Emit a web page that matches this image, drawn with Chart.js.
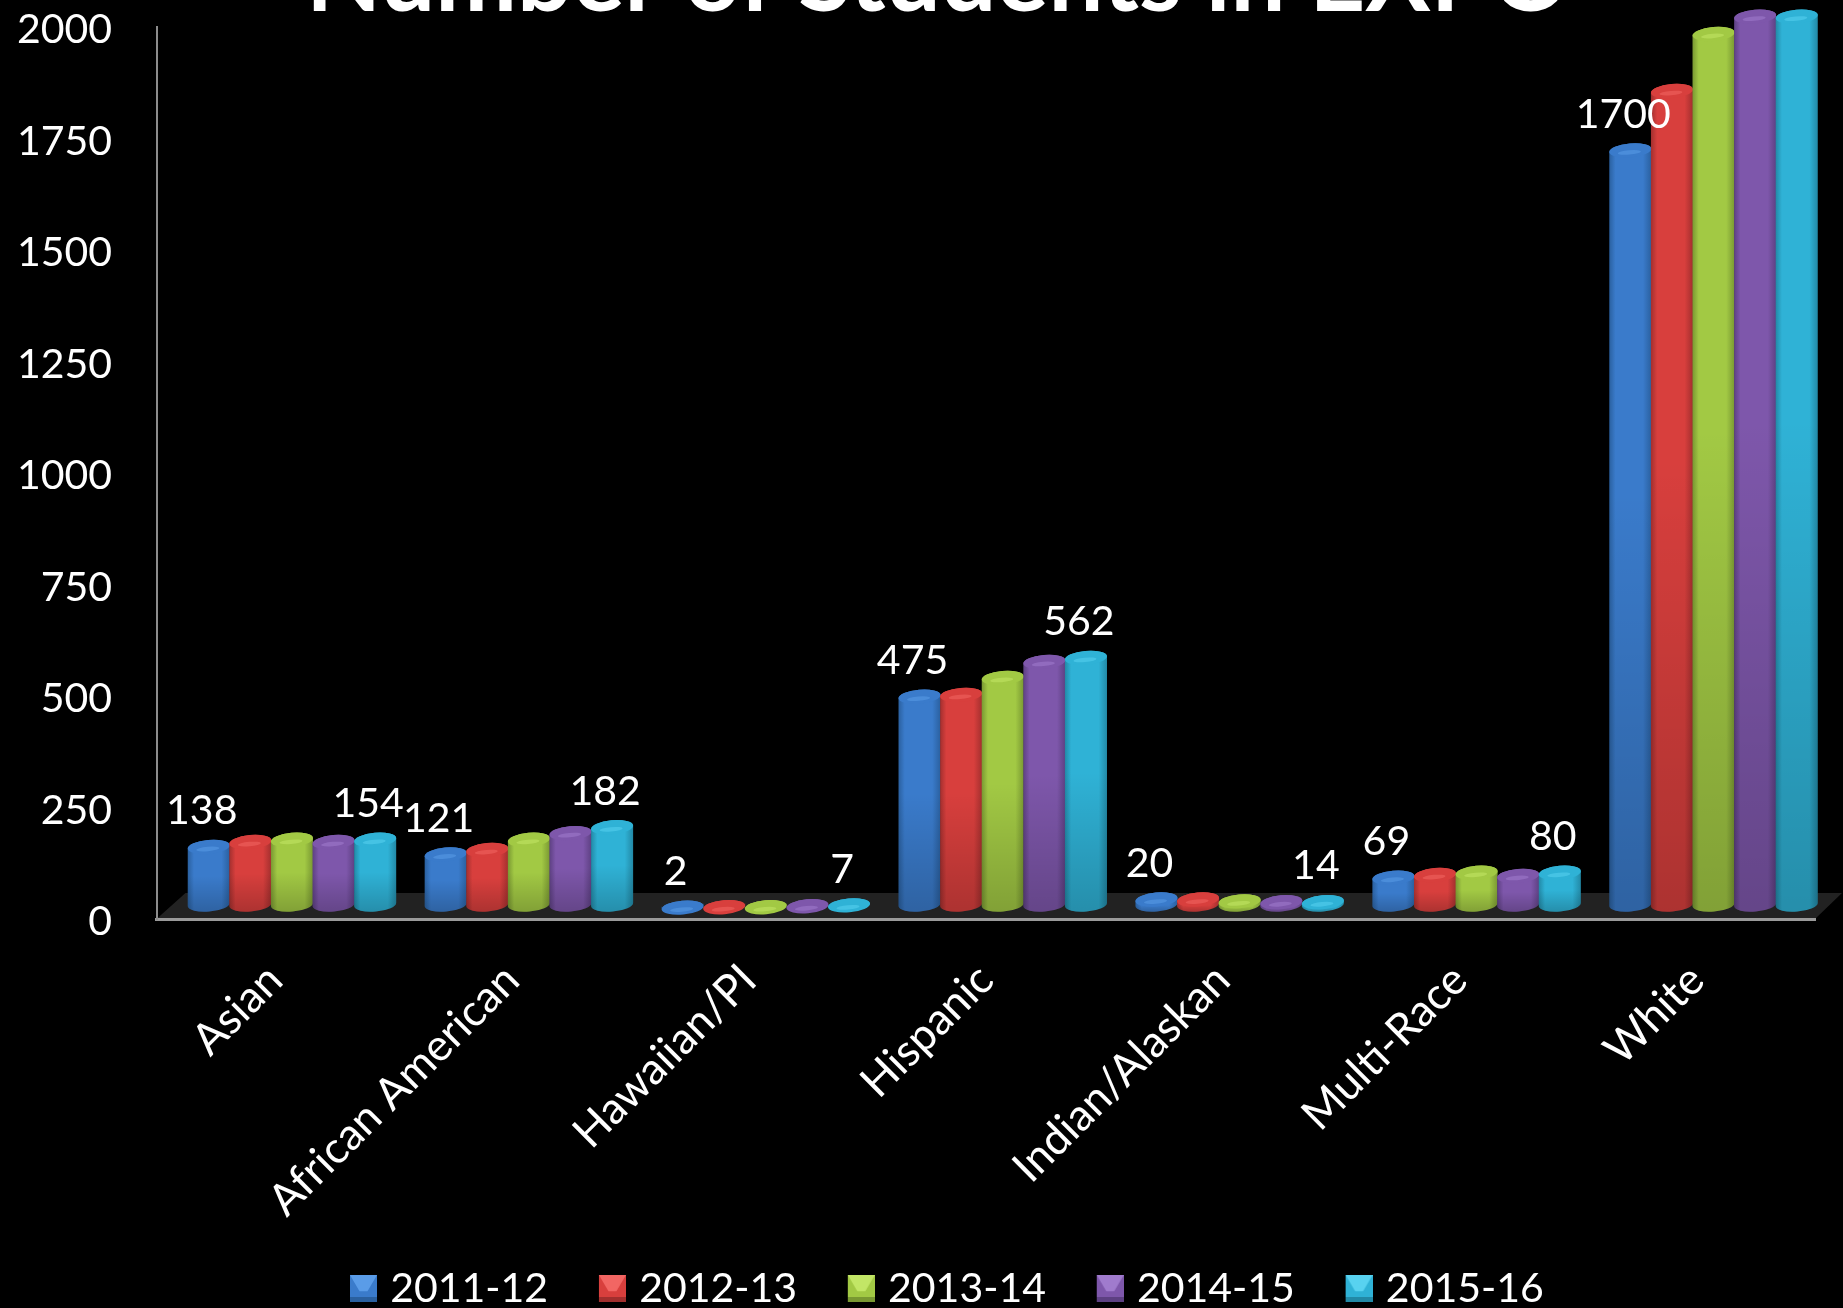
<!DOCTYPE html>
<html lang="en">

<head>
    <meta charset="UTF-8">
    <title>Number of Students in EXPO</title>
    <script src="https://cdn.jsdelivr.net/npm/chart.js"></script>
    <style>
        html, body { margin: 0; background: #000; }
        canvas { display: block; }
    </style>
</head>

<body>
    <canvas id="students" width="1843" height="1308"></canvas>

    <script>
        var categories = ['Asian', 'African American', 'Hawaiian/PI', 'Hispanic', 'Indian/Alaskan', 'Multi-Race', 'White'];
        var years = ['2011-12', '2012-13', '2013-14', '2014-15', '2015-16'];

        var y2011 = [138, 121, 2, 475, 20, 69, 1700];
        var y2012 = [149, 131, 3, 479, 20, 75, 1833];
        var y2013 = [154, 154, 3, 517, 16, 80, 1961];
        var y2014 = [149, 169, 5, 553, 14, 73, 2000];
        var y2015 = [154, 182, 7, 562, 14, 80, 2000];
        var seriesValues = [y2011, y2012, y2013, y2014, y2015];

        // which series print their value above the bar, per category
        var labelledSeries = [[0, 4], [0, 4], [0, 4], [0, 4], [0, 4], [0, 4], [0]];

        var yTicks = [0, 250, 500, 750, 1000, 1250, 1500, 1750, 2000];

        var baseColors = ['#3a7bcb', '#d83f3d', '#a2c944', '#7e57ab', '#2fb2d6'];
        var lightColors = ['#5a9ce8', '#f26663', '#c2e666', '#a07bcd', '#58d2f0'];
        var darkColors = ['#2a609f', '#a22f2e', '#799832', '#5d4082', '#2289a6'];

        var FONT = 'Lato, Carlito, sans-serif';
        var DEPTH_Y = 10.5;   // bars stand this far behind the front axis line
        var DEPTH_X = 17;
        var CAP_RY = 7;
        var TILT = -5 * Math.PI / 180;

        // bevelled legend key, offset inside its canvas so the legend text sits close to it
        function makeSwatch(i) {
            var c = document.createElement('canvas');
            c.width = 52.5;
            c.height = 27;
            var g = c.getContext('2d');
            var x = 25, s = 27;
            g.fillStyle = baseColors[i];
            g.fillRect(x, 0, s, s);
            g.fillStyle = lightColors[i];
            g.beginPath();
            g.moveTo(x, 0);
            g.lineTo(x + s, 0);
            g.lineTo(x + s / 2 + 4, s * 0.6);
            g.lineTo(x + s / 2 - 4, s * 0.6);
            g.closePath();
            g.fill();
            g.fillStyle = darkColors[i];
            g.fillRect(x, s - 5, s, 5);
            return c;
        }

        function drawCylinder(ctx, el, i) {
            var cx = el.x + DEPTH_X;
            var rx = el.width / 2 + 0.3;
            var top = el.y - DEPTH_Y;
            var bottom = el.base - DEPTH_Y - 4;

            ctx.save();
            ctx.beginPath();
            ctx.ellipse(cx, bottom, rx, CAP_RY, TILT, 0, Math.PI);
            ctx.ellipse(cx, top, rx, CAP_RY, TILT, Math.PI, 2 * Math.PI);
            ctx.closePath();

            var side = ctx.createLinearGradient(cx - rx, 0, cx + rx, 0);
            side.addColorStop(0, darkColors[i]);
            side.addColorStop(0.15, baseColors[i]);
            side.addColorStop(0.8, baseColors[i]);
            side.addColorStop(1, darkColors[i]);
            ctx.fillStyle = side;
            ctx.fill();

            // each bar loses light towards the floor
            var fade = ctx.createLinearGradient(0, top, 0, bottom + CAP_RY);
            fade.addColorStop(0, 'rgba(0,0,0,0)');
            fade.addColorStop(0.45, 'rgba(0,0,0,0)');
            fade.addColorStop(1, 'rgba(0,0,0,0.2)');
            ctx.fillStyle = fade;
            ctx.fill();

            ctx.beginPath();
            ctx.ellipse(cx, top, rx, CAP_RY, TILT, 0, 2 * Math.PI);
            ctx.fillStyle = baseColors[i];
            ctx.fill();
            // faint highlight along the front of the cap
            ctx.beginPath();
            ctx.ellipse(cx - 1, top + 2, rx * 0.55, 2.2, TILT, 0, 2 * Math.PI);
            ctx.globalAlpha = 0.55;
            ctx.fillStyle = lightColors[i];
            ctx.fill();
            ctx.restore();
        }

        var cylinders = {
            id: 'cylinders',
            beforeDraw: function (chart) {
                // dark floor of the 3D plot
                var ctx = chart.ctx, a = chart.chartArea;
                ctx.save();
                ctx.fillStyle = '#222222';
                ctx.beginPath();
                ctx.moveTo(a.left, a.bottom);
                ctx.lineTo(a.right, a.bottom);
                ctx.lineTo(a.right + 27, a.bottom - 26);
                ctx.lineTo(a.left + 29, a.bottom - 26);
                ctx.closePath();
                ctx.fill();
                ctx.restore();
            },
            beforeDatasetsDraw: function (chart) {
                var ctx = chart.ctx;
                seriesValues.forEach(function (values, i) {
                    chart.getDatasetMeta(i).data.forEach(function (el) {
                        drawCylinder(ctx, el, i);
                    });
                });

                ctx.save();
                ctx.fillStyle = '#ffffff';
                ctx.font = '41px ' + FONT;
                ctx.textAlign = 'center';
                ctx.textBaseline = 'middle';
                labelledSeries.forEach(function (list, c) {
                    list.forEach(function (i) {
                        var el = chart.getDatasetMeta(i).data[c];
                        ctx.fillText(String(seriesValues[i][c]), el.x + DEPTH_X - 7, el.y - DEPTH_Y - 36);
                    });
                });
                ctx.restore();
                return false;
            }
        };

        var datasets = years.map(function (year, i) {
            return {
                label: year,
                data: seriesValues[i],
                backgroundColor: baseColors[i],
                categoryPercentage: 0.878,
                barPercentage: 1
            };
        });

        new Chart(document.getElementById('students').getContext('2d'), {
            type: 'bar',
            data: { labels: categories, datasets: datasets },
            plugins: [cylinders],
            options: {
                responsive: false,
                animation: false,
                layout: { padding: { left: 61, right: 28, top: 0, bottom: -11 } },
                plugins: {
                    tooltip: { enabled: false },
                    title: {
                        display: true,
                        text: 'Number of Students in EXPO',
                        color: '#ffffff',
                        font: { family: FONT, size: 97.6, weight: 'bold' },
                        padding: { top: -79, bottom: -11 }
                    },
                    legend: {
                        position: 'bottom',
                        labels: {
                            color: '#ffffff',
                            font: { family: FONT, size: 41 },
                            usePointStyle: true,
                            boxWidth: 37.5,
                            padding: 33,
                            generateLabels: function (chart) {
                                var items = Chart.defaults.plugins.legend.labels.generateLabels(chart);
                                items.forEach(function (item, i) {
                                    item.pointStyle = makeSwatch(i);
                                });
                                return items;
                            }
                        }
                    }
                },
                scales: {
                    x: {
                        afterFit: function (scale) { scale.height = 316; },
                        grid: { display: false },
                        border: { display: true, color: '#9a9a9a', width: 3 },
                        ticks: {
                            color: '#ffffff',
                            font: { family: FONT, size: 44 },
                            minRotation: 45,
                            maxRotation: 45,
                            autoSkip: false,
                            padding: 27
                        }
                    },
                    y: {
                        min: 0,
                        max: 2000,
                        afterFit: function (scale) { scale.width = 95.5; },
                        afterBuildTicks: function (scale) {
                            scale.ticks = yTicks.map(function (v) { return { value: v }; });
                        },
                        grid: { display: false },
                        border: { display: true, color: '#8c8c8c', width: 2 },
                        ticks: {
                            color: '#ffffff',
                            font: { family: FONT, size: 41 },
                            callback: function (value) { return String(value); },
                            // mirrored so the labels may sit left of the narrowed scale box
                            mirror: true,
                            crossAlign: 'far',
                            padding: -139.5,
                            labelOffset: 3
                        }
                    }
                }
            }
        });
    </script>
</body>

</html>
